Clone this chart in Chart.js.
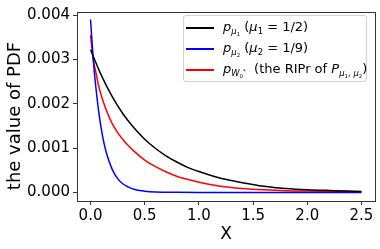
<!DOCTYPE html>
<html>
<head>
<meta charset="utf-8">
<script src="https://cdn.jsdelivr.net/npm/chart.js@4.4.0/dist/chart.umd.min.js"></script>
<style>
  html, body { margin: 0; padding: 0; background: #fff; }
  #wrap { position: relative; width: 380px; height: 249px; }
  #legend {
    position: absolute; left: 183px; top: 15px; width: 182px; height: 65px;
    border: 1px solid #d0d0d0; border-radius: 3px; background: rgba(255,255,255,0.85);
    font-family: "DejaVu Sans", sans-serif; font-size: 13px; color: #000;
  }
  .row { position: absolute; left: 0; height: 20px; line-height: 20px; white-space: nowrap; }
  .swatch { position: absolute; left: 2px; top: 10px; width: 28px; height: 1.5px; }
  .txt { position: absolute; left: 39px; top: 0; }
  sub { font-size: 65%; vertical-align: -0.3em; line-height: 0; }
  sup { font-size: 65%; vertical-align: 0.5em; line-height: 0; }
</style>
</head>
<body>
<div id="wrap">
  <canvas id="chart" width="380" height="249"></canvas>
  <div id="legend">
    <div class="row" style="top:1px"><span class="swatch" style="background:#000"></span>
      <span class="txt"><i>p</i><sub><i>μ</i><sub>1</sub></sub> (<i>μ</i><sub>1</sub> = 1/2)</span></div>
    <div class="row" style="top:22px"><span class="swatch" style="background:#0000ff"></span>
      <span class="txt"><i>p</i><sub><i>μ</i><sub>2</sub></sub> (<i>μ</i><sub>2</sub> = 1/9)</span></div>
    <div class="row" style="top:43px"><span class="swatch" style="background:#ff0000"></span>
      <span class="txt"><i>p</i><sub><i>W</i><sub>0</sub><sup>*</sup></sub>&nbsp; (the RIPr of <i>P</i><sub><i>μ</i><sub>1</sub>, <i>μ</i><sub>2</sub></sub>)</span></div>
  </div>
</div>
<script>
// values
const blackX = [0, 0.1, 0.2, 0.3, 0.4, 0.5, 0.6, 0.7, 0.8, 0.9, 1.0, 1.2, 1.4, 1.6, 1.8, 2.0, 2.25, 2.5];
const blackY = [0.00322, 0.00264, 0.00216, 0.00177, 0.00146, 0.00120, 0.00099, 0.00082, 0.00068, 0.00056, 0.00047, 0.00032, 0.00022, 0.00014, 0.00009, 0.00006, 0.00004, 0.00002];

const blueX = [0, 0.025, 0.05, 0.075, 0.1, 0.125, 0.15, 0.2, 0.25, 0.3, 0.35, 0.4, 0.5, 0.6, 0.8, 1.0, 1.5, 2.0, 2.5];
const blueY = [0.0039, 0.0030, 0.00235, 0.00183, 0.00142, 0.00110, 0.00086, 0.00052, 0.00031, 0.00019, 0.00012, 0.00007, 0.000028, 0.00001, 0.000002, 0, 0, 0, 0];

const redX = [0, 0.025, 0.05, 0.075, 0.1, 0.133, 0.177, 0.2, 0.25, 0.3, 0.35, 0.4, 0.5, 0.6, 0.7, 0.8, 0.9, 1.0, 1.2, 1.4, 1.6, 1.8, 2.0, 2.25, 2.5];
const redY = [0.00355, 0.0030, 0.0027, 0.0024, 0.00218, 0.00194, 0.00167, 0.00155, 0.00135, 0.00119, 0.00105, 0.00093, 0.00073, 0.00058, 0.00046, 0.00036, 0.00029, 0.00023, 0.00014, 0.00009, 0.00006, 0.00004, 0.00003, 0.00002, 0.000015];

const xTicks = [0, 0.5, 1.0, 1.5, 2.0, 2.5];
const yTicks = [0, 0.001, 0.002, 0.003, 0.004];

function pts(xs, ys) {
  return xs.map((x, i) => ({ x: x, y: ys[i] }));
}

const FONT = "DejaVu Sans";

// axes frame and the y label (drawn by hand so it sits where the reference has it)
const frame = {
  id: "frame",
  afterDraw(c) {
    const a = c.chartArea;
    const ctx = c.ctx;
    ctx.save();
    ctx.strokeStyle = "#333";
    ctx.lineWidth = 1;
    ctx.strokeRect(Math.round(a.left) + 0.5, Math.round(a.top) + 0.5,
      Math.round(a.right - a.left), Math.round(a.bottom - a.top));
    ctx.translate(15, 116);
    ctx.rotate(-Math.PI / 2);
    ctx.fillStyle = "#000";
    ctx.font = "18px '" + FONT + "'";
    ctx.textAlign = "center";
    ctx.textBaseline = "middle";
    ctx.fillText("the value of PDF", 0, 0);
    ctx.restore();
  }
};

const line = (label, xs, ys, color) => ({
  label: label,
  data: pts(xs, ys),
  borderColor: color,
  borderWidth: 1.5,
  pointRadius: 0,
  fill: false,
  cubicInterpolationMode: "monotone"
});

new Chart(document.getElementById("chart"), {
  type: "line",
  data: {
    datasets: [
      line("p_mu1", blackX, blackY, "#000000"),
      line("p_mu2", blueX, blueY, "#0000ff"),
      line("p_W0*", redX, redY, "#ff0000")
    ]
  },
  options: {
    responsive: false,
    animation: false,
    layout: { padding: { top: 9, right: 5, left: 0, bottom: 0 } },
    plugins: { legend: { display: false }, tooltip: { enabled: false } },
    scales: {
      x: {
        type: "linear",
        min: -0.125,
        max: 2.625,
        afterBuildTicks: (s) => { s.ticks = xTicks.map(v => ({ value: v })); },
        afterFit: (s) => { s.height = 48; },
        grid: { drawOnChartArea: false, drawTicks: true, tickLength: 4, color: "#333" },
        border: { display: false },
        ticks: {
          color: "#000", padding: 2,
          font: { family: FONT, size: 15 },
          callback: (v) => v.toFixed(1)
        },
        title: { display: true, text: "X", color: "#000", padding: { top: 0 }, font: { family: FONT, size: 17 } }
      },
      y: {
        type: "linear",
        min: -0.000194,
        max: 0.00407,
        afterBuildTicks: (s) => { s.ticks = yTicks.map(v => ({ value: v })); },
        afterFit: (s) => { s.width = 77; },
        grid: { drawOnChartArea: false, drawTicks: true, tickLength: 4, color: "#333" },
        border: { display: false },
        ticks: {
          color: "#000", padding: 3,
          font: { family: FONT, size: 15 },
          callback: (v) => v.toFixed(3)
        }
      }
    }
  },
  plugins: [frame]
});
</script>
</body>
</html>
